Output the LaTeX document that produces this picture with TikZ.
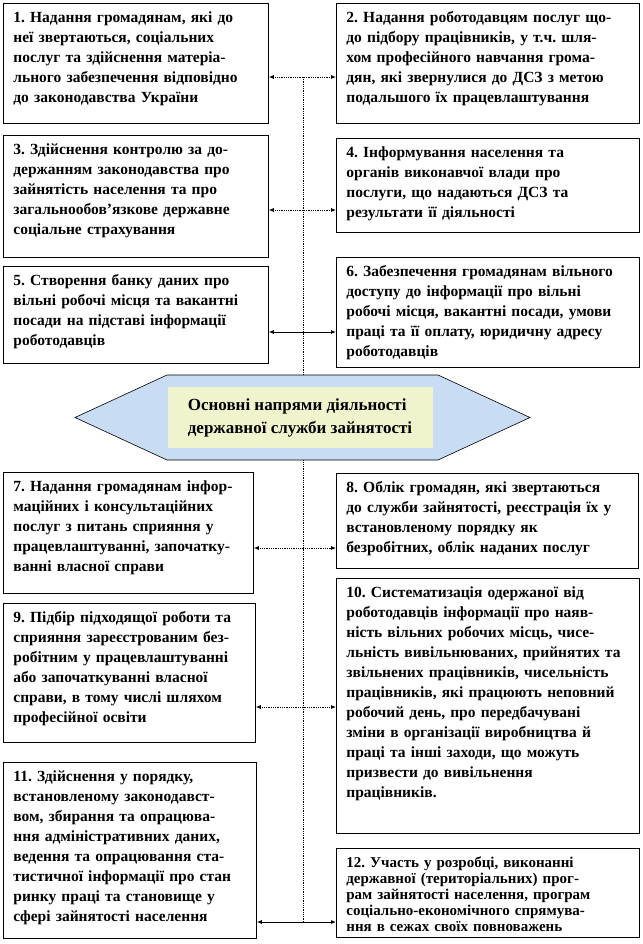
\documentclass[tikz,border=0pt]{standalone}
\usepackage{fontspec}
\setmainfont{Liberation Serif}
\usepackage{xcolor}
\usepackage{tikz}
\usetikzlibrary{arrows.meta, calc}
\definecolor{hubblue}{RGB}{200,220,244}
\definecolor{hubyellow}{RGB}{240,244,204}
\frenchspacing
\tikzset{
  taskbox/.style 2 args={
    draw, line width=0.8pt, fill=white, anchor=north west, align=left,
    inner xsep=10pt, inner ysep=8pt, text height=11pt,
    text width=#1pt-20pt, text depth=#2pt-27pt,
    font=\bfseries\fontsize{15.5}{20}\selectfont
  },
  hubshape/.style={
    draw, line width=0.6pt, fill=hubblue
  },
  hubtext/.style={
    fill=hubyellow, align=left, minimum width=265pt, minimum height=61pt,
    font=\bfseries\fontsize{17}{23}\selectfont
  },
  dotlink/.style={
    {Latex[length=5pt,width=4pt]}-{Latex[length=5pt,width=4pt]},
    densely dotted, line width=0.8pt
  },
  solidlink/.style={
    {Latex[length=5pt,width=4pt]}-{Latex[length=5pt,width=4pt]},
    line width=0.8pt
  },
  trunkline/.style={densely dotted, line width=0.8pt},
}

\begin{document}
\begin{tikzpicture}[x=1pt, y=-1pt]
  \useasboundingbox (0,0) rectangle (642,944);

  % Trunk and its junctions
  \coordinate (j1) at (303,77);
  \coordinate (j2) at (303,210);
  \coordinate (j3) at (303,332);
  \coordinate (j4) at (303,548);
  \coordinate (j5) at (303,707);
  \coordinate (j6) at (303,922);
  \draw[trunkline] (j1) -- (j6);

  % Centre
  \draw[hubshape] (75,417.5) -- (167,375) -- (438,375) -- (530,417.5)
    -- (438,460) -- (167,460) -- cycle;
  \node[hubtext] (hub) at (300,417.5)
    {Основні напрями діяльності\\державної служби зайнятості};

  % Upper boxes
  \node[taskbox={265}{120}] (task1) at (3,3)
    {1. Надання громадянам, які до\\неї звертаються, соціальних\\послуг та здійснення матеріа-\\льного забезпечення відповідно\\до законодавства України};
  \node[taskbox={303}{120}] (task2) at (336,3)
    {2. Надання роботодавцям послуг що-\\до підбору працівників, у т.ч. шля-\\хом професійного навчання грома-\\дян, які звернулися до ДСЗ з метою\\подальшого їх працевлаштування};
  \node[taskbox={265}{122}] (task3) at (3,135)
    {3. Здійснення контролю за до-\\держанням законодавства про\\зайнятість населення та про\\загальнообов’язкове державне\\соціальне страхування};
  \node[taskbox={303}{94}] (task4) at (336,138)
    {4. Інформування населення та\\органів виконавчої влади про\\послуги, що надаються ДСЗ та\\результати її діяльності};
  \node[taskbox={265}{97}] (task5) at (3,266)
    {5. Створення банку даних про\\вільні робочі місця та вакантні\\посади на підставі інформації\\роботодавців};
  \node[taskbox={303}{110}] (task6) at (336,257)
    {6. Забезпечення громадянам вільного\\доступу до інформації про вільні\\робочі місця, вакантні посади, умови\\праці та її оплату, юридичну адресу\\роботодавців};

  % Lower boxes
  \node[taskbox={250}{121}] (task7) at (3,472)
    {7. Надання громадянам інфор-\\маційних і консультаційних\\послуг з питань сприяння у\\працевлаштуванні, започатку-\\ванні власної справи};
  \node[taskbox={302}{95}] (task8) at (336,473)
    {8. Облік громадян, які звертаються\\до служби зайнятості, реєстрація їх у\\встановленому порядку як\\безробітних, облік наданих послуг};
  \node[taskbox={252}{139}] (task9) at (3,603)
    {9. Підбір підходящої роботи та\\сприяння зареєстрованим без-\\робітним у працевлаштуванні\\або започаткуванні власної\\справи, в тому числі шляхом\\професійної освіти};
  \node[taskbox={303}{255}] (task10) at (336,578)
    {10. Систематизація одержаної від\\роботодавців інформації про наяв-\\ність вільних робочих місць, чисе-\\льність вивільнюваних, прийнятих та\\звільнених працівників, чисельність\\працівників, які працюють неповний\\робочий день, про передбачувані\\зміни в організації виробництва й\\праці та інші заходи, що можуть\\призвести до вивільнення\\працівників.};
  \node[taskbox={253}{176}] (task11) at (3,762)
    {11. Здійснення у порядку,\\встановленому законодавст-\\вом, збирання та опрацюва-\\ння адміністративних даних,\\ведення та опрацювання ста-\\тистичної інформації про стан\\ринку праці та становище у\\сфері зайнятості населення};
  \node[taskbox={303}{89}, font=\bfseries\fontsize{15}{16}\selectfont] (task12) at (336,848)
    {12. Участь у розробці, виконанні\\державної (територіальних) прог-\\рам зайнятості населення, програм\\соціально-економічного спрямува-\\ння в сежах своїх повноважень};

  % Links
  \draw[dotlink] (task1.east |- j1) -- (task2.west |- j1);
  \draw[dotlink] (task3.east |- j2) -- (task4.west |- j2);
  \draw[solidlink] (task5.east |- j3) -- (task6.west |- j3);
  \draw[dotlink] (task7.east |- j4) -- (task8.west |- j4);
  \draw[dotlink] (task9.east |- j5) -- (task10.west |- j5);
  \draw[solidlink] (task11.east |- j6) -- (task12.west |- j6);
\end{tikzpicture}
\end{document}
